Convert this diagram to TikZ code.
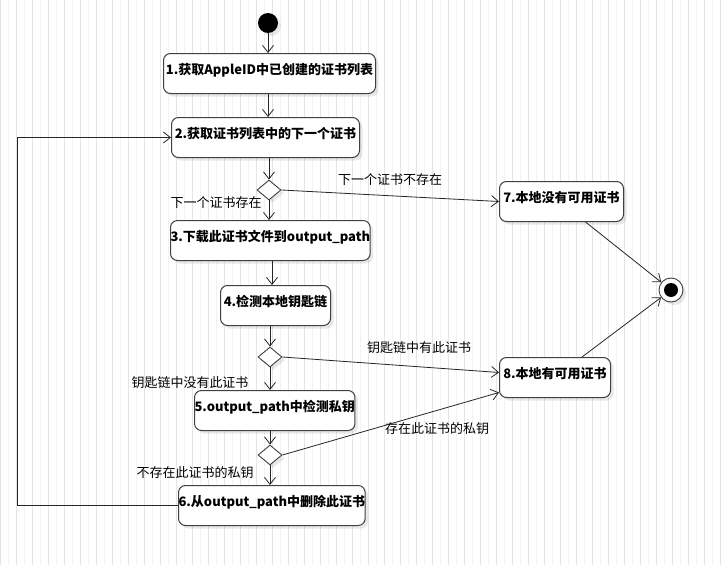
\documentclass[tikz,border=0pt]{standalone}
\usepackage{fontspec}
\setmainfont{Noto Sans CJK SC}
\usepackage{tikz}
\usetikzlibrary{shapes.geometric,arrows.meta,shadows}
\newcommand\fsz{\fontsize{13pt}{15pt}\selectfont}
\tikzset{act/.style={rectangle,draw=black!75,line width=1pt,rounded corners=7pt,anchor=north west,inner xsep=0pt,inner ysep=0pt,text height=20.5pt,text depth=19.5pt,font=\fsz\bfseries,fill=white,drop shadow={shadow xshift=3pt,shadow yshift=-3pt,opacity=0.18}}}
\tikzset{dec/.style={diamond,draw=black!75,line width=0.9pt,minimum width=24pt,minimum height=20pt,inner sep=0pt,fill=white,drop shadow={shadow xshift=3pt,shadow yshift=-3pt,opacity=0.18}}}
\tikzset{ini/.style={circle,fill=black,minimum size=20pt,inner sep=0pt,drop shadow={shadow xshift=3pt,shadow yshift=-3pt,opacity=0.18}}}
\tikzset{fin/.style={circle,draw=black!75,line width=0.9pt,fill=white,minimum size=24pt,inner sep=0pt,drop shadow={shadow xshift=3pt,shadow yshift=-3pt,opacity=0.18},path picture={\fill[black] (path picture bounding box.center) circle (7pt);}}}
\tikzset{lbl/.style={font=\fsz,inner sep=0pt}}
\tikzset{ln/.style={->,line width=0.8pt,draw=black!85}}

\begin{document}
\begin{tikzpicture}[x=1pt,y=-1pt,>={Straight Barb[length=7pt,width=11pt]}]
    \useasboundingbox (0,0) rectangle (721,565);
    \fill[white] (0,0) rectangle (721,565);
    \draw[gray!10,line width=0.6pt,step=8] (0,0) grid (721,565);
    \draw[gray!20,line width=0.6pt,step=16] (0,0) grid (721,565);

    \node[ini] (st) at (268,23) {};
    \node[act,minimum width=212pt] (s1) at (163,53) {1.获取AppleID中已创建的证书列表};
    \node[act,minimum width=188pt] (s2) at (171,117) {2.获取证书列表中的下一个证书};
    \node[dec] (d1) at (269,190) {};
    \node[act,minimum width=199pt] (s3) at (170,220) {3.下载此证书文件到output\_path};
    \node[act,minimum width=110pt] (s4) at (220,285) {4.检测本地钥匙链};
    \node[dec] (d2) at (270,357) {};
    \node[act,minimum width=159pt] (s5) at (194,390) {5.output\_path中检测私钥};
    \node[dec] (d3) at (270,455) {};
    \node[act,minimum width=185pt] (s6) at (178,485) {6.从output\_path中删除此证书};
    \node[act,minimum width=124pt] (s7) at (499,181) {7.本地没有可用证书};
    \node[act,minimum width=111pt] (s8) at (499,357) {8.本地有可用证书};
    \node[fin] (en) at (671,290) {};

    \node[lbl] (l1) at (216,203) {下一个证书存在};
    \node[lbl] (l2) at (390,180) {下一个证书不存在};
    \node[lbl] (l3) at (419,348) {钥匙链中有此证书};
    \node[lbl] (l4) at (190,383) {钥匙链中没有此证书};
    \node[lbl] (l5) at (437,429) {存在此证书的私钥};
    \node[lbl] (l6) at (195,473) {不存在此证书的私钥};

    \draw [ln] (st) to [] (st |- s1.north);
    \draw [ln] (s1.south -| st) to [] (s2.north -| st);
    \draw [ln] (s2.south -| d1) to [] (d1.north);
    \draw [ln] (d1.south) to [] (s3.north -| d1);
    \draw [ln] ([xshift=2pt]s3.south -| d2) to [] ([xshift=2pt]s4.north -| d2);
    \draw [ln] (s4.south -| d2) to [] (d2.north);
    \draw [ln] (d2.south) to [] (s5.north -| d2);
    \draw [ln] (s5.south -| d3) to [] (d3.north);
    \draw [ln] (d3.south) to [] (s6.north -| d3);
    \draw [ln] (d1.east) to [] (s7.west);
    \draw [ln] (d2.east) to [] ([yshift=5pt]s8.west);
    \draw [ln] (d3.east) to [] ([yshift=-15pt]s8.west);
    \draw [ln] ([xshift=24pt]s7.south) to [] (en);
    \draw [ln] ([xshift=27pt]s8.north) to [] (en);
    \draw [ln] (s6.west) -- ++(-161,0) |- (s2.west);
\end{tikzpicture}
\end{document}
